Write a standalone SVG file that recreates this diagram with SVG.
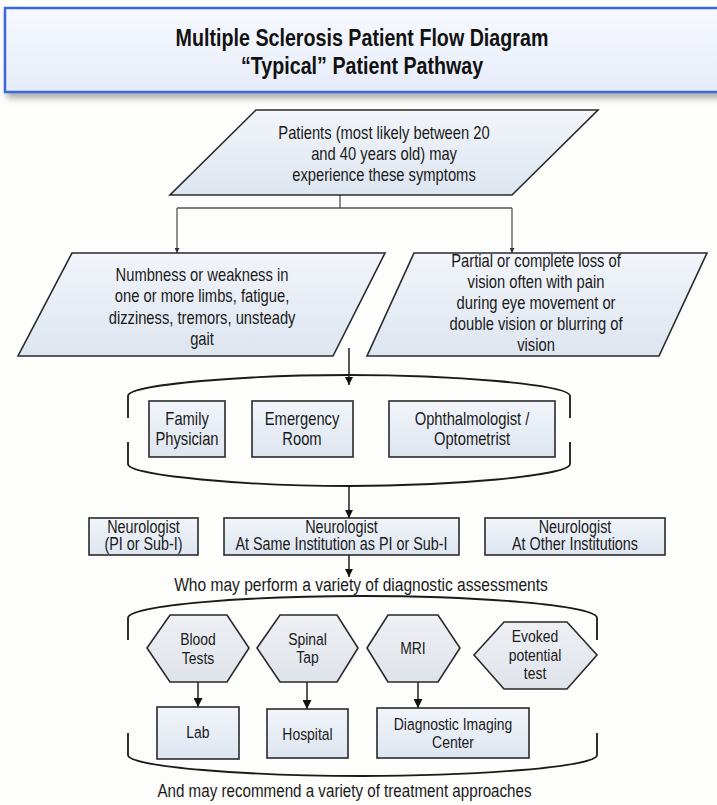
<svg xmlns="http://www.w3.org/2000/svg" width="717" height="805" viewBox="0 0 717 805">
<style>
text{font-family:'Liberation Sans',Arial,sans-serif;fill:#1a1a1a;text-anchor:middle;transform-box:fill-box;transform-origin:50% 50%;transform:scaleX(.82)}
.t{font-size:24px;font-weight:bold;fill:#111}
.b18{font-size:18px}
.b17{font-size:17px}
.bn{font-size:17.5px}
.cap{font-size:19px}
.shape{fill:url(#g);stroke:#2a2a2a;stroke-width:1.6}
.hex{fill:url(#gh);stroke:#2a2a2a;stroke-width:1.6}
.br{fill:none;stroke:#1a1a1a;stroke-width:1.8}
.c{fill:none;stroke:#111;stroke-width:1.4}
.cg{fill:none;stroke:#555;stroke-width:1.3}
</style>
<defs>
<linearGradient id="g" x1="0" y1="0" x2="0" y2="1"><stop offset="0" stop-color="#f2f5fa"/><stop offset="1" stop-color="#dde5f0"/></linearGradient>
<linearGradient id="gh" x1="0" y1="0" x2="0" y2="1"><stop offset="0" stop-color="#eef0f4"/><stop offset="1" stop-color="#dfe3ea"/></linearGradient>
<linearGradient id="gt" x1="0" y1="0" x2="0" y2="1"><stop offset="0" stop-color="#f7f9fe"/><stop offset="1" stop-color="#e6ecf9"/></linearGradient>
<filter id="sh" x="-5%" y="-20%" width="110%" height="150%"><feDropShadow dx="3" dy="5" stdDeviation="3" flood-color="#777" flood-opacity="0.6"/></filter>
<marker id="a" viewBox="0 0 10 10" refX="10" refY="5" markerWidth="9" markerHeight="8" markerUnits="userSpaceOnUse" orient="auto"><path d="M0,0 L10,5 L0,10 z" fill="#111"/></marker>
<marker id="as" viewBox="0 0 10 10" refX="10" refY="5" markerWidth="6" markerHeight="5" markerUnits="userSpaceOnUse" orient="auto"><path d="M0,0 L10,5 L0,10 z" fill="#333"/></marker>
<marker id="al" viewBox="0 0 10 10" refX="10" refY="5" markerWidth="11" markerHeight="9" markerUnits="userSpaceOnUse" orient="auto"><path d="M0,0 L10,5 L0,10 z" fill="#111"/></marker>
</defs>
<rect width="717" height="805" fill="#fdfdfc"/>

<g id="title">
<rect x="5" y="8" width="730" height="84" fill="url(#gt)" stroke="#3a69d4" stroke-width="2.5" filter="url(#sh)"/>
<text class="t" x="362" y="46">Multiple Sclerosis Patient Flow Diagram</text>
<text class="t" x="362" y="74">“Typical” Patient Pathway</text>
</g>

<g id="connectors">
<path class="cg" d="M340,195 V208 M177,208 H512"/>
<path class="cg" d="M177,208 V253" marker-end="url(#as)"/>
<path class="cg" d="M512,208 V253" marker-end="url(#as)"/>
<path class="c" d="M349,348 V385" marker-end="url(#a)"/>
<path class="c" d="M349,486 V518" marker-end="url(#a)"/>
<path class="c" d="M349,555 V577" marker-end="url(#a)"/>
<path class="c" d="M198,682 V707" marker-end="url(#al)"/>
<path class="c" d="M307,682 V709" marker-end="url(#al)"/>
<path class="c" d="M418,682 V708" marker-end="url(#al)"/>
</g>

<g id="patients">
<polygon class="shape" points="256,110 598,110 512,195 170,195"/>
<text class="b18" x="384" y="139">Patients (most likely between 20</text>
<text class="b18" x="384" y="160">and 40 years old) may</text>
<text class="b18" x="384" y="181">experience these symptoms</text>
</g>

<g id="symptoms-physical">
<polygon class="shape" points="72,253 385,253 333,356 18,356"/>
<text class="b18" x="202" y="281">Numbness or weakness in</text>
<text class="b18" x="202" y="302">one or more limbs, fatigue,</text>
<text class="b18" x="202" y="324">dizziness, tremors, unsteady</text>
<text class="b18" x="202" y="345">gait</text>
</g>

<g id="symptoms-vision">
<polygon class="shape" points="414,253 707,253 659,356 367,356"/>
<text class="b18" x="536" y="267">Partial or complete loss of</text>
<text class="b18" x="536" y="288">vision often with pain</text>
<text class="b18" x="536" y="309">during eye movement or</text>
<text class="b18" x="536" y="330">double vision or blurring of</text>
<text class="b18" x="536" y="351">vision</text>
</g>

<g id="first-contact">
<path class="br" d="M128,418 V396 C128,384 250,375 349,375 C448,375 570,384 570,396 V418"/>
<path class="br" d="M128,442 V464 C128,476 250,486 349,486 C448,486 570,476 570,464 V442"/>
</g>
<g id="family-physician">
<rect class="shape" x="149" y="401" width="76" height="56"/>
<text class="b18" x="187" y="425">Family</text>
<text class="b18" x="187" y="445">Physician</text>
</g>
<g id="emergency-room">
<rect class="shape" x="252" y="401" width="101" height="56"/>
<text class="b18" x="302" y="425">Emergency</text>
<text class="b18" x="302" y="445">Room</text>
</g>
<g id="ophthalmologist">
<rect class="shape" x="389" y="401" width="166" height="56"/>
<text class="b18" x="472" y="425">Ophthalmologist /</text>
<text class="b18" x="472" y="445">Optometrist</text>
</g>

<g id="neuro-pi">
<rect class="shape" x="89" y="518" width="109" height="37"/>
<text class="bn" x="143.5" y="533">Neurologist</text>
<text class="bn" x="143.5" y="550.5">(PI or Sub-I)</text>
</g>
<g id="neuro-same">
<rect class="shape" x="224" y="518" width="235" height="37"/>
<text class="bn" x="341.5" y="533">Neurologist</text>
<text class="bn" x="341.5" y="550.5">At Same Institution as PI or Sub-I</text>
</g>
<g id="neuro-other">
<rect class="shape" x="485" y="518" width="180" height="37"/>
<text class="bn" x="575" y="533">Neurologist</text>
<text class="bn" x="575" y="550.5">At Other Institutions</text>
</g>

<g id="diagnostics-caption">
<text class="cap" x="361" y="591">Who may perform a variety of diagnostic assessments</text>
</g>

<g id="diagnostics">
<path class="br" d="M128,640 V618 C128,605 250,596 362,596 C475,596 597,605 597,618 V640"/>
<path class="br" d="M128,733 V755 C128,767 250,776 362,776 C475,776 597,767 597,755 V733"/>
</g>
<g id="blood-tests">
<polygon class="hex" points="147,648 170,615 227,615 249,648 227,682 170,682"/>
<text class="b17" x="198" y="645">Blood</text>
<text class="b17" x="198" y="664">Tests</text>
</g>
<g id="spinal-tap">
<polygon class="hex" points="257,648 280,615 337,615 358,648 337,682 280,682"/>
<text class="b17" x="307.5" y="645">Spinal</text>
<text class="b17" x="307.5" y="663">Tap</text>
</g>
<g id="mri">
<polygon class="hex" points="367,648 388,615 438,615 460,648 438,682 388,682"/>
<text class="b17" x="413" y="654">MRI</text>
</g>
<g id="evoked">
<polygon class="hex" points="474,655 504,622 567,622 597,655 567,689 504,689"/>
<text class="b17" x="535" y="642">Evoked</text>
<text class="b17" x="535" y="661">potential</text>
<text class="b17" x="535" y="679">test</text>
</g>
<g id="lab">
<rect class="shape" x="157" y="707" width="82" height="52"/>
<text class="b17" x="198" y="738">Lab</text>
</g>
<g id="hospital">
<rect class="shape" x="267" y="709" width="81" height="49"/>
<text class="b17" x="307.5" y="740">Hospital</text>
</g>
<g id="imaging-center">
<rect class="shape" x="377" y="708" width="152" height="50"/>
<text class="b17" x="453" y="730">Diagnostic Imaging</text>
<text class="b17" x="453" y="748">Center</text>
</g>

<g id="treatment-caption">
<text class="cap" x="344.5" y="797" style="font-size:18.5px">And may recommend a variety of treatment approaches</text>
</g>
</svg>
